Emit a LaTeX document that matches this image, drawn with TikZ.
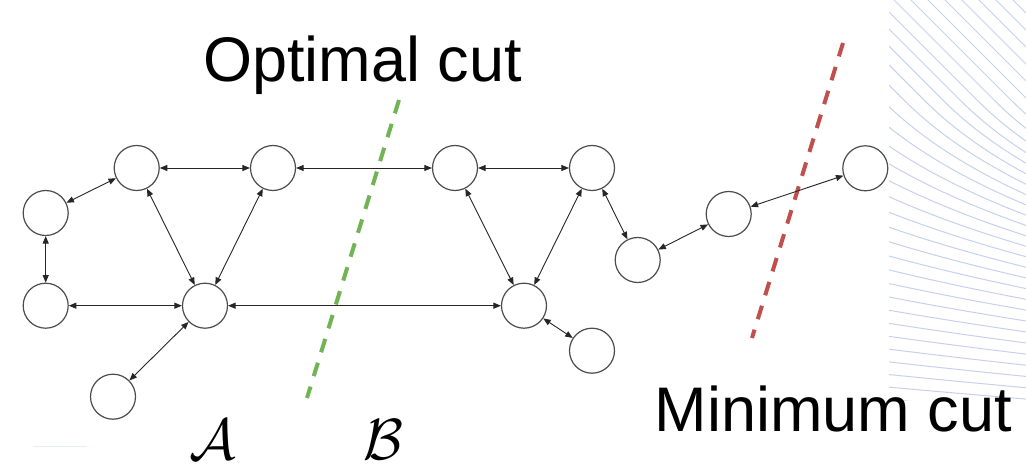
\RequirePackage{fix-cm}
\documentclass[tikz,border=0pt]{standalone}
\usepackage{fontspec}
\setmainfont{Liberation Sans}
\usetikzlibrary{arrows.meta}
\definecolor{cutgreen}{HTML}{72B455}
\definecolor{cutred}{HTML}{C0504D}
\definecolor{bgblue}{HTML}{C8D0F0}
\tikzset{
  vtx/.style={circle, draw=black!70, line width=1.2pt, minimum size=45pt, inner sep=0pt, fill=white},
  lnk/.style={{Triangle[length=7.5pt,width=6pt]}-{Triangle[length=7.5pt,width=6pt]}, line width=0.9pt, draw=black!85},
  cutline/.style={line width=4pt, dash pattern=on 14pt off 11pt},
  bigtext/.style={font=\fontsize{63}{66}\selectfont, inner sep=0pt, anchor=base},
  mathlbl/.style={font=\fontsize{58}{62}\selectfont, inner sep=0pt},
  bgline/.style={draw=bgblue, line width=1pt}
}
\begin{document}
\begin{tikzpicture}[x=1pt,y=-1pt]
\useasboundingbox (0,0) rectangle (1026,468);
\fill[white] (0,0) rectangle (1026,468);
% background pattern
\begin{scope}
\clip (889,0) rectangle (1026,400);
\foreach \yn in {-80,-63,-46,-29,-12,5,22,39,56,73,90,107,123.5,139,153.8,168,181.8,195.2,208.4,221.3,234.1,246.7,259.2,271.6,283.9,296.1,308.3,320.4,332.5,344.6,356.6,368.6,380.6,392.6,404.6,416.6} {
  \pgfmathsetmacro\vn{(\yn<=100) ? (\yn-100) : (120*(exp((\yn-100)/120)-1))}
  \draw[bgline] plot[domain=889:1026, samples=40, variable=\t, smooth] (\t, {((\vn+\t-950)<=0) ? (\vn+\t-950+100) : (100+120*ln(max(1+(\vn+\t-950)/120,0.01)))});
}
\end{scope}
\draw[draw=bgblue!40, line width=1pt] (33,446.7) -- (87,446.7);

% cuts
\coordinate (g1) at (399,100);
\coordinate (g2) at (307,398);
\coordinate (r1) at (843,43);
\coordinate (r2) at (752,338);
\draw[cutline, cutgreen] (g1) -- (g2);
\draw[cutline, cutred] (r1) -- (r2);

% nodes
\node[vtx] (L1) at (45.7,213) {};
\node[vtx] (L2) at (45.7,305.7) {};
\node[vtx] (T1) at (136.7,168) {};
\node[vtx] (T2) at (273,168) {};
\node[vtx] (C1) at (205,305.7) {};
\node[vtx] (B1) at (113,396.7) {};
\node[vtx] (T3) at (455,168) {};
\node[vtx] (T4) at (592,168) {};
\node[vtx] (C2) at (524,305.7) {};
\node[vtx] (B2) at (592,350.7) {};
\node[vtx] (R1) at (637.7,260) {};
\node[vtx] (R2) at (728.7,214) {};
\node[vtx] (R3) at (865.3,168.3) {};

% edges
\draw[lnk] (L1) -- (T1);
\draw[lnk] (L1) -- (L2);
\draw[lnk] (L2) -- (C1);
\draw[lnk] (T1) -- (T2);
\draw[lnk] (T1) -- (C1);
\draw[lnk] (T2) -- (C1);
\draw[lnk] (C1) -- (B1);
\draw[lnk] (T2) -- (T3);
\draw[lnk] (C1) -- (C2);
\draw[lnk] (T3) -- (T4);
\draw[lnk] (T3) -- (C2);
\draw[lnk] (T4) -- (C2);
\draw[lnk] (C2) -- (B2);
\draw[lnk] (T4) -- (R1);
\draw[lnk] (R1) -- (R2);
\draw[lnk] (R2) -- (R3);

% labels
\node[bigtext] (opt) at (362.5,82) {Optimal cut};
\node[bigtext] (mincut) at (833.5,431) {Minimum cut};
\node[mathlbl] (setA) at (213,440) {$\mathcal{A}$};
\node[mathlbl] (setB) at (383,440) {$\mathcal{B}$};
\end{tikzpicture}
\end{document}
